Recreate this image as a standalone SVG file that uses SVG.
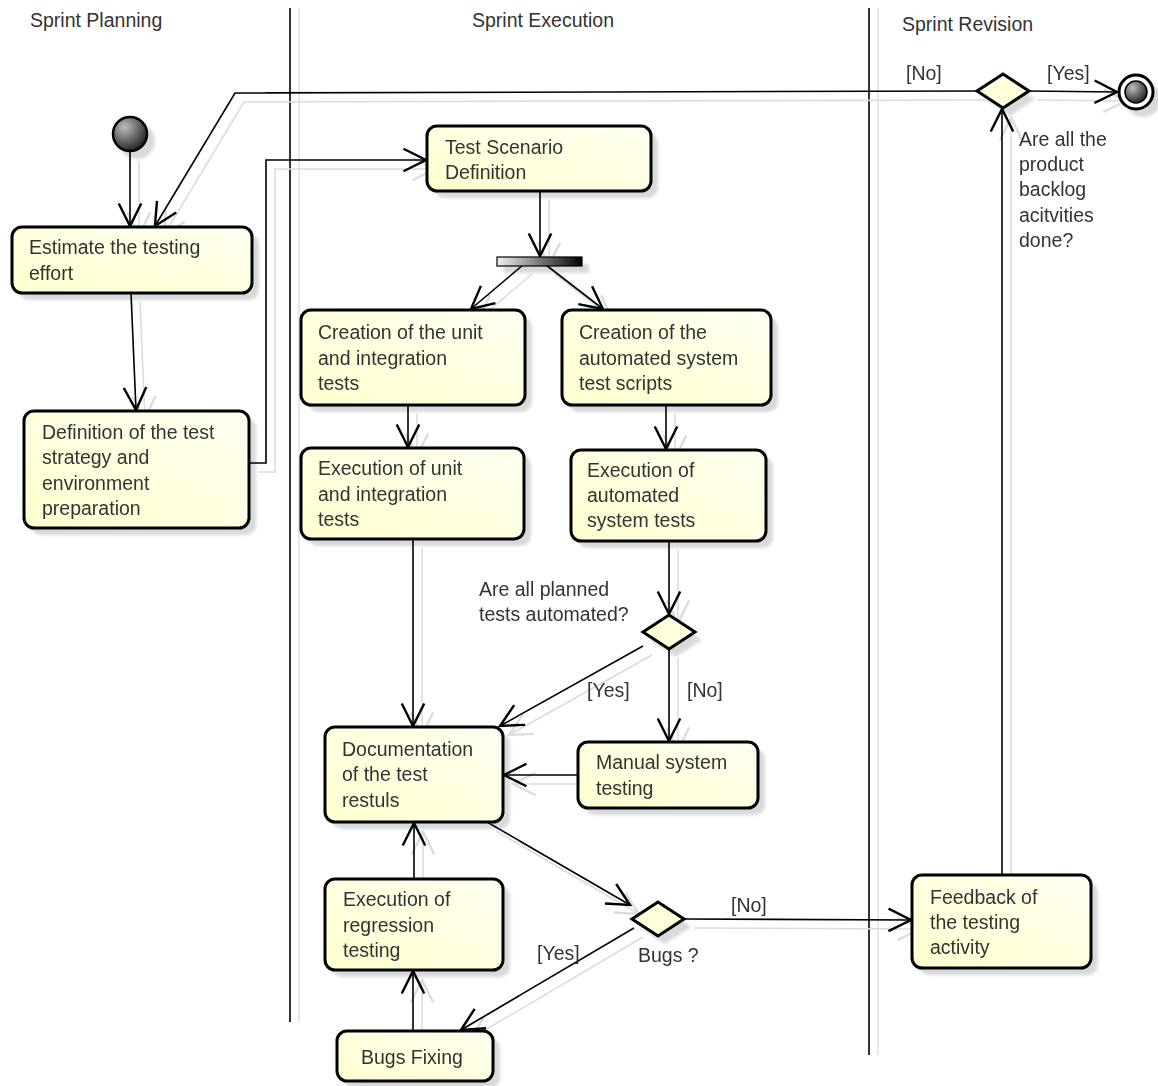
<svg xmlns="http://www.w3.org/2000/svg" xmlns:xlink="http://www.w3.org/1999/xlink" width="1158" height="1086" viewBox="0 0 1158 1086">
<defs>
<style>
text{font-family:"Liberation Sans",Arial,sans-serif;font-size:19.5px;fill:#333}
.box{fill:url(#gNode);stroke:#000;stroke-width:3}
.sh{fill:#cfcfcf;opacity:.8}
.dia{fill:#ffffdc;stroke:#000;stroke-width:3}
.lane{stroke:#000;stroke-width:1.6}
.laneSh{stroke:#e2e2e2;stroke-width:1.6}
</style>
<filter id="blur" x="-10%" y="-10%" width="120%" height="120%"><feGaussianBlur stdDeviation="1.5"/></filter>
<linearGradient id="gNode" x1="0" y1="1" x2="1" y2="0">
<stop offset="0" stop-color="#ffffcf"/>
<stop offset="1" stop-color="#fffff2"/>
</linearGradient>
<linearGradient id="gBar" x1="0" y1="0" x2="1" y2="0">
<stop offset="0" stop-color="#f2f2f2"/>
<stop offset="1" stop-color="#000"/>
</linearGradient>
<radialGradient id="gBall" cx="0.35" cy="0.3" r="0.75">
<stop offset="0" stop-color="#bdbdbd"/>
<stop offset="1" stop-color="#1e1e1e"/>
</radialGradient>
<marker id="arr" markerUnits="userSpaceOnUse" markerWidth="30" markerHeight="30" refX="0" refY="0" viewBox="-16 -10 18 20" orient="auto" overflow="visible">
<path d="M-15,-7.5 L0,0 L-15,7.5" fill="none" stroke="#000" stroke-width="1.6"/>
</marker>
<marker id="arrSh" markerUnits="userSpaceOnUse" markerWidth="30" markerHeight="30" refX="0" refY="0" viewBox="-16 -10 18 20" orient="auto" overflow="visible">
<path d="M-15,-7.5 L0,0 L-15,7.5" fill="none" stroke="#dcdcdc" stroke-width="1.6"/>
</marker>
</defs>
<rect width="1158" height="1086" fill="#fff"/>

<!-- swimlanes -->
<g id="lanes">
<line class="laneSh" x1="299" y1="8" x2="299" y2="1022"/>
<line class="laneSh" x1="878" y1="8" x2="878" y2="1055"/>
<line class="lane" x1="290" y1="8" x2="290" y2="1022"/>
<line class="lane" x1="869" y1="8" x2="869" y2="1055"/>
<text x="30" y="27">Sprint Planning</text>
<text x="472" y="27">Sprint Execution</text>
<text x="902" y="31">Sprint Revision</text>
</g>

<!-- connector shadows -->
<g stroke="#dcdcdc" stroke-width="1.6" fill="none" marker-end="url(#arrSh)" transform="translate(9,9)">
<use xlink:href="#connectors"/>
</g>

<!-- node shadows -->
<g id="shadows" filter="url(#blur)">
<rect class="sh" x="19" y="234" width="240" height="66" rx="10"/>
<rect class="sh" x="31" y="418" width="225" height="117" rx="10"/>
<rect class="sh" x="434" y="133" width="224" height="65" rx="10"/>
<rect class="sh" x="308" y="317" width="224" height="95" rx="10"/>
<rect class="sh" x="569" y="317" width="209" height="95" rx="10"/>
<rect class="sh" x="308" y="455" width="223" height="91" rx="10"/>
<rect class="sh" x="578" y="457" width="195" height="91" rx="10"/>
<rect class="sh" x="332" y="734" width="178" height="95" rx="10"/>
<rect class="sh" x="585" y="749" width="180" height="66" rx="10"/>
<rect class="sh" x="332" y="886" width="178" height="91" rx="10"/>
<rect class="sh" x="344" y="1038" width="156" height="50" rx="10"/>
<rect class="sh" x="919" y="882" width="179" height="93" rx="10"/>
<rect class="sh" x="504" y="264" width="85" height="9"/>
<circle class="sh" cx="137" cy="141" r="18"/>
<circle class="sh" cx="1143" cy="99" r="18"/>
<polygon class="sh" points="985,99 1010,82 1035,99 1010,116"/>
<polygon class="sh" points="650,640 676,623 702,640 676,657"/>
<polygon class="sh" points="639,927 665,910 691,927 665,944"/>
</g>

<!-- connectors -->
<g stroke="#000" stroke-width="1.6" fill="none" marker-end="url(#arr)">
<g id="connectors">
<path d="M130,152 L130,226"/>
<path d="M977,91 L235,93 L155,226"/>
<path d="M131,293 L136,410"/>
<path d="M249,463 L266,463 L266,160 L426,160"/>
<path d="M540,191 L540,256"/>
<path d="M523,265 L471,309"/>
<path d="M546,265 L603,309"/>
<path d="M408,405 L408,447"/>
<path d="M666,405 L666,449"/>
<path d="M413,539 L413,726"/>
<path d="M669,541 L669,614"/>
<path d="M643,646 L500,726"/>
<path d="M669,649 L669,741"/>
<path d="M578,775 L504,775"/>
<path d="M414,879 L414,823"/>
<path d="M487,822 L630,905"/>
<path d="M634,928 L461,1030"/>
<path d="M413,1031 L413,971"/>
<path d="M685,919 L911,920"/>
<path d="M1002,875 L1002,109"/>
<path d="M1028,91 L1117,92"/>
</g>
</g>

<!-- nodes -->
<g id="start"><circle cx="130" cy="134" r="17" fill="url(#gBall)" stroke="#000" stroke-width="2.5"/></g>
<g id="end">
<circle cx="1136" cy="92" r="17" fill="#fff" stroke="#000" stroke-width="3"/>
<circle cx="1136" cy="92" r="11" fill="url(#gBall)" stroke="#000" stroke-width="1.5"/>
</g>

<g id="n-estimate">
<rect class="box" x="12" y="227" width="240" height="66" rx="10"/>
<text x="29" y="254">Estimate the testing</text>
<text x="29" y="280">effort</text>
</g>
<g id="n-definition">
<rect class="box" x="24" y="411" width="225" height="117" rx="10"/>
<text x="42" y="439">Definition of the test</text>
<text x="42" y="464">strategy and</text>
<text x="42" y="490">environment</text>
<text x="42" y="515">preparation</text>
</g>
<g id="n-scenario">
<rect class="box" x="427" y="126" width="224" height="65" rx="10"/>
<text x="445" y="154">Test Scenario</text>
<text x="445" y="179">Definition</text>
</g>
<g id="fork"><rect x="497" y="257" width="85" height="9" fill="url(#gBar)" stroke="#000" stroke-width="1.2"/></g>
<g id="n-create-unit">
<rect class="box" x="301" y="310" width="224" height="95" rx="10"/>
<text x="318" y="339">Creation of the unit</text>
<text x="318" y="365">and integration</text>
<text x="318" y="390">tests</text>
</g>
<g id="n-create-auto">
<rect class="box" x="562" y="310" width="209" height="95" rx="10"/>
<text x="579" y="339">Creation of the</text>
<text x="579" y="365">automated system</text>
<text x="579" y="390">test scripts</text>
</g>
<g id="n-exec-unit">
<rect class="box" x="301" y="448" width="223" height="91" rx="10"/>
<text x="318" y="475">Execution of unit</text>
<text x="318" y="501">and integration</text>
<text x="318" y="526">tests</text>
</g>
<g id="n-exec-auto">
<rect class="box" x="571" y="450" width="195" height="91" rx="10"/>
<text x="587" y="477">Execution of</text>
<text x="587" y="502">automated</text>
<text x="587" y="527">system tests</text>
</g>
<g id="d-automated">
<polygon class="dia" points="643,632 669,615 695,632 669,649"/>
<text x="479" y="596">Are all planned</text>
<text x="479" y="621">tests automated?</text>
<text x="587" y="697">[Yes]</text>
<text x="687" y="697">[No]</text>
</g>
<g id="n-doc">
<rect class="box" x="325" y="727" width="178" height="95" rx="10"/>
<text x="342" y="756">Documentation</text>
<text x="342" y="781">of the test</text>
<text x="342" y="807">restuls</text>
</g>
<g id="n-manual">
<rect class="box" x="578" y="742" width="180" height="66" rx="10"/>
<text x="596" y="769">Manual system</text>
<text x="596" y="795">testing</text>
</g>
<g id="n-regression">
<rect class="box" x="325" y="879" width="178" height="91" rx="10"/>
<text x="343" y="906">Execution of</text>
<text x="343" y="932">regression</text>
<text x="343" y="957">testing</text>
</g>
<g id="n-bugsfix">
<rect class="box" x="337" y="1031" width="156" height="50" rx="10"/>
<text x="361" y="1064">Bugs Fixing</text>
</g>
<g id="d-bugs">
<polygon class="dia" points="632,919 658,902 684,919 658,936"/>
<text x="638" y="962">Bugs ?</text>
<text x="731" y="912">[No]</text>
<text x="537" y="960">[Yes]</text>
</g>
<g id="n-feedback">
<rect class="box" x="912" y="875" width="179" height="93" rx="10"/>
<text x="930" y="904">Feedback of</text>
<text x="930" y="929">the testing</text>
<text x="930" y="954">activity</text>
</g>
<g id="d-done">
<polygon class="dia" points="977,91 1003,74 1029,91 1003,108"/>
<text x="906" y="80">[No]</text>
<text x="1047" y="80">[Yes]</text>
<text x="1019" y="146">Are all the</text>
<text x="1019" y="171">product</text>
<text x="1019" y="196">backlog</text>
<text x="1019" y="222">acitvities</text>
<text x="1019" y="247">done?</text>
</g>
</svg>
